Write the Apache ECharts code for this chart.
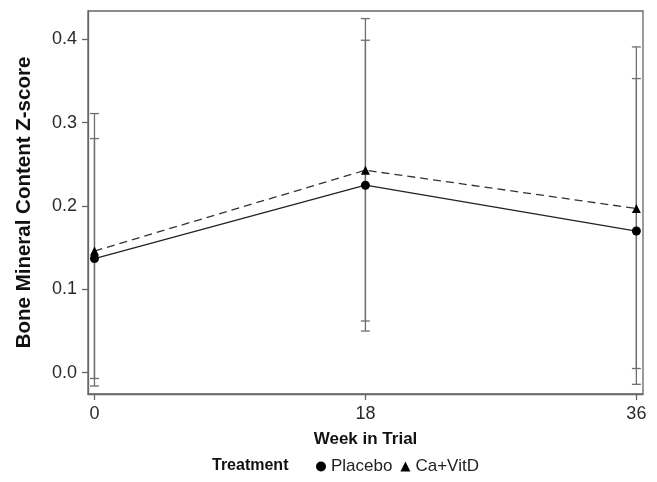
<!DOCTYPE html>
<html>
<head>
<meta charset="utf-8">
<script src="https://cdn.jsdelivr.net/npm/echarts@6/dist/echarts.min.js"></script>
<style>html,body{margin:0;padding:0;background:#fff}#c{width:657px;height:482px}</style>
</head>
<body>
<div id="c"></div>
<script>
var weeks = [0, 18, 36];
var xTicks = [0, 18, 36];
var yTicks = [0, 0.1, 0.2, 0.3, 0.4];
var placeboMean = [0.137, 0.225, 0.170];
var placeboLow = [-0.007, 0.050, -0.014];
var placeboHigh = [0.281, 0.399, 0.353];
var caMean = [0.146, 0.243, 0.197];
var caLow = [-0.016, 0.062, 0.005];
var caHigh = [0.311, 0.425, 0.391];

var FONT = 'Liberation Sans, Arial, Helvetica, sans-serif';

function pairs(xs, ys) { return xs.map(function (x, i) { return [x, ys[i]]; }); }
function triples(xs, lo, hi) { return xs.map(function (x, i) { return [x, lo[i], hi[i]]; }); }

function errRender(params, api) {
  var x = api.value(0);
  var lo = api.coord([x, api.value(1)]);
  var hi = api.coord([x, api.value(2)]);
  var hw = 4.5;
  var st = { stroke: '#6e6e6e', lineWidth: 1.3, fill: null };
  return {
    type: 'group',
    children: [
      { type: 'line', shape: { x1: lo[0], y1: lo[1], x2: hi[0], y2: hi[1] }, style: st },
      { type: 'line', shape: { x1: lo[0] - hw, y1: lo[1], x2: lo[0] + hw, y2: lo[1] }, style: st },
      { type: 'line', shape: { x1: hi[0] - hw, y1: hi[1], x2: hi[0] + hw, y2: hi[1] }, style: st }
    ]
  };
}

var chart = echarts.init(document.getElementById('c'), null, { renderer: 'canvas' });
chart.setOption({
  animation: false,
  backgroundColor: '#fff',
  grid: { left: 88, right: 14, top: 11, bottom: 88, show: true, borderColor: '#666', borderWidth: 1.3, backgroundColor: 'transparent' },
  xAxis: {
    type: 'value', min: -0.43, max: 36.44,
    name: 'Week in Trial', nameLocation: 'middle', nameGap: 37,
    nameTextStyle: { fontFamily: FONT, fontWeight: 'bold', fontSize: 17, color: '#111' },
    axisLine: { show: true, onZero: false, lineStyle: { color: '#666', width: 1.3 } },
    axisTick: { show: true, length: 6, customValues: xTicks, lineStyle: { color: '#666', width: 1.3 } },
    axisLabel: { customValues: xTicks, fontFamily: FONT, fontSize: 18, color: '#2a2a2a', margin: 11 },
    splitLine: { show: false }
  },
  yAxis: {
    type: 'value', min: -0.0256, max: 0.4341,
    name: 'Bone Mineral Content Z-score', nameLocation: 'middle', nameGap: 53,
    nameTextStyle: { fontFamily: FONT, fontWeight: 'bold', fontSize: 20.5, color: '#111' },
    axisLine: { show: true, onZero: false, lineStyle: { color: '#666', width: 1.3 } },
    axisTick: { show: true, length: 6, customValues: yTicks, lineStyle: { color: '#666', width: 1.3 } },
    axisLabel: { customValues: yTicks, fontFamily: FONT, fontSize: 18, color: '#2a2a2a', margin: 11,
      formatter: function (v) { return v.toFixed(1); } },
    splitLine: { show: false }
  },
  legend: {
    left: 316, top: 458, padding: 0, itemWidth: 10, itemHeight: 10, itemGap: 8,
    textStyle: { fontFamily: FONT, fontSize: 17, color: '#222' },
    data: [
      { name: 'Placebo', icon: 'circle', itemStyle: { color: '#000' } },
      { name: 'Ca+VitD', icon: 'triangle', itemStyle: { color: '#000' } }
    ]
  },
  graphic: [
    { type: 'text', left: 212, top: 458, style: { text: 'Treatment', font: 'bold 16px ' + FONT, fill: '#111' } }
  ],
  series: [
    { type: 'custom', name: 'errP', renderItem: errRender, data: triples(weeks, placeboLow, placeboHigh), z: 1, silent: true },
    { type: 'custom', name: 'errC', renderItem: errRender, data: triples(weeks, caLow, caHigh), z: 1, silent: true },
    {
      type: 'line', name: 'Placebo', data: pairs(weeks, placeboMean), z: 3,
      symbol: 'circle', symbolSize: 9, itemStyle: { color: '#000' },
      lineStyle: { color: '#222', width: 1.3, type: 'solid' }
    },
    {
      type: 'line', name: 'Ca+VitD', data: pairs(weeks, caMean), z: 3,
      symbol: 'triangle', symbolSize: 9, itemStyle: { color: '#000' },
      lineStyle: { color: '#333', width: 1.3, type: [8, 5] }
    }
  ]
});
</script>
</body>
</html>
